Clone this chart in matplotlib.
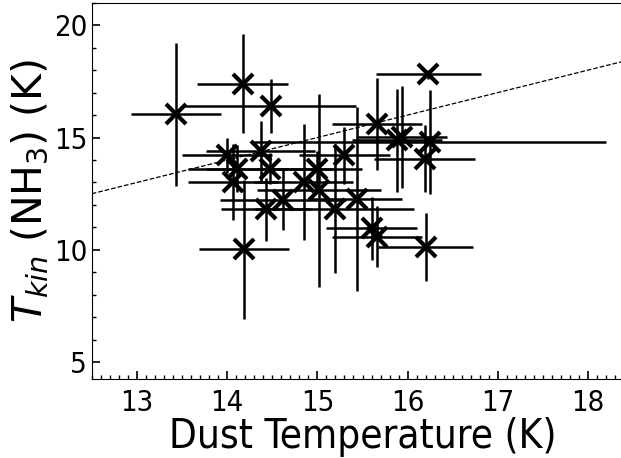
import numpy as np
import matplotlib
matplotlib.use("Agg")
import matplotlib.pyplot as plt
from matplotlib.ticker import MultipleLocator

# dust temperature vs ammonia kinetic temperature
t_dust = [13.43, 14.17, 14.48, 14.00, 14.11, 14.06, 14.37, 14.47, 14.43, 14.62,
          14.85, 14.99, 15.02, 15.19, 15.30, 15.44, 15.66, 15.88, 15.94, 16.25,
          16.19, 16.23, 14.19, 15.60, 15.66, 16.20]
t_dust_err = [0.50, 0.50, 0.95, 0.50, 0.55, 0.50, 0.60, 0.70, 0.50, 0.70,
              0.55, 0.50, 0.69, 0.88, 0.50, 0.50, 0.50, 0.50, 0.50, 1.95,
              0.56, 0.58, 0.50, 0.50, 0.50, 0.53]
t_kin = [16.03, 17.40, 16.40, 14.20, 13.62, 13.02, 14.39, 13.62, 11.81, 12.24,
         13.02, 13.62, 12.65, 11.84, 14.21, 12.28, 15.62, 14.88, 15.02, 14.80,
         14.06, 17.81, 10.02, 10.95, 10.58, 10.13]
t_kin_err = [3.20, 2.20, 1.20, 0.80, 1.03, 1.67, 1.35, 0.70, 1.40, 1.35,
             2.60, 0.80, 4.30, 2.85, 1.26, 4.10, 2.05, 2.30, 2.27, 2.30,
             1.50, 0.20, 3.10, 1.40, 1.35, 1.50]

one_to_one = np.array([12.0, 19.0])

fig = plt.figure(figsize=(6.21, 4.58), dpi=100)
ax = fig.add_axes([0.148, 0.1725, 0.8715, 0.8215])

ax.errorbar(t_dust, t_kin, xerr=t_dust_err, yerr=t_kin_err, fmt='x', color='k',
            ms=14, mew=3, elinewidth=1.8, capsize=0)
ax.plot(one_to_one, one_to_one, 'k--', lw=0.9)

ax.set_xlim(12.5, 18.5)
ax.set_ylim(4.25, 21)
ax.xaxis.set_major_locator(MultipleLocator(1))
ax.xaxis.set_minor_locator(MultipleLocator(0.1))
ax.yaxis.set_major_locator(MultipleLocator(5))
ax.yaxis.set_minor_locator(MultipleLocator(1))
ax.tick_params(which='both', direction='in', labelsize=21)
ax.tick_params(which='major', length=6, width=1.2)
ax.tick_params(which='minor', length=3, width=1)
ax.tick_params(axis='x', pad=7)
for lab in ax.get_xticklabels() + ax.get_yticklabels():
    lab.set_fontstretch('condensed')

ax.set_xlabel('Dust Temperature (K)', fontsize=29, fontstretch='condensed', labelpad=0)
ax.set_ylabel(r'$T_{kin}$ (NH$_3$) (K)', fontsize=29.5, labelpad=2)

fig.savefig('out.png', dpi=100)
